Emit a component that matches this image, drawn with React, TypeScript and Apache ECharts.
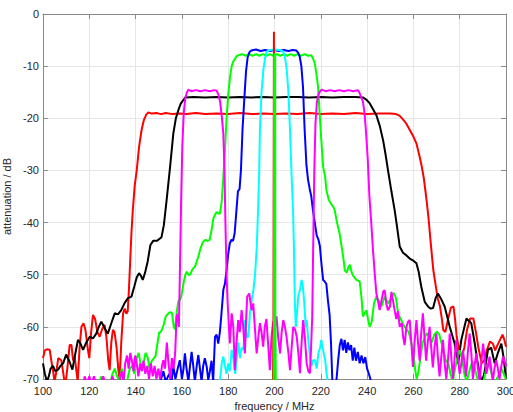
import React, { useEffect, useRef } from "react";
import * as echarts from "echarts";

// frequency axis ticks (MHz) and attenuation ticks (dB)
const xTicks = [100, 120, 140, 160, 180, 200, 220, 240, 260, 280, 300];
const yTicks = [-70, -60, -50, -40, -30, -20, -10, 0];

// red: widest band filter (~145-253 MHz)
const redWide: number[][] = [
  [100, -66], [100.8, -64.5], [101.7, -64.3], [102.9, -64.4], [103.6, -66.5], [104.3, -68.3], [105, -70.5], [105.8, -68.5], [106.6, -66], [107.9, -66.4], [108.8, -69], [109.6, -71.5], [110.5, -68], [111.5, -63.5], [112.3, -63.5], [113, -66.5], [113.7, -65.7], [114.3, -68], [115, -70.5], [115.8, -64], [116.6, -60], [117.5, -59.3], [118.3, -60.5], [119.4, -64.4], [120, -66], [120.8, -61], [121.6, -57.7], [122.5, -58.5], [123.5, -61], [124.5, -61.9], [125.5, -60.5], [126.6, -59.6], [127.4, -62], [128.2, -66.5], [128.8, -68.3], [129.5, -63], [130.2, -60.6], [130.9, -61], [131.8, -64], [132.5, -68], [133.1, -70.2], [133.8, -63], [134.6, -57.4], [135.3, -56.5], [136, -57.5], [136.6, -57], [137.1, -53], [137.6, -48], [138.2, -42], [138.8, -37.6], [139.6, -33], [140.5, -29.9], [141.5, -25.5], [142.6, -22.2], [143.6, -20.3], [144.6, -19.3], [145.5, -18.9], [147, -19.1], [149, -19.0], [151, -19.2], [153, -19.0], [156, -19.2], [159, -19.1], [162, -19.2], [166, -19.0], [170, -19.2], [175, -19.1], [180, -19.2], [185, -19.0], [190, -19.2], [195, -19.1], [200, -19.2], [205, -19.1], [210, -19.2], [215, -19.0], [220, -19.2], [225, -19.1], [230, -19.2], [235, -19.0], [240, -19.2], [245, -19.1], [250, -19.1], [252.5, -19.2], [254, -19.5], [255.5, -20.2], [256.9, -21], [258.5, -22.3], [260, -23.5], [261.3, -24.8], [262.5, -27], [263.5, -29], [264.5, -31.5], [265.5, -35], [266.5, -39], [267.5, -44], [268.6, -49.1], [269.6, -52], [270.5, -54.5], [271.5, -56.1], [272.3, -58.5], [272.9, -60.6], [273.8, -61], [275, -58.5], [276.2, -56.3], [277.3, -56.1], [278, -58.5], [278.7, -61.9], [279.8, -64.5], [280.9, -65.7], [282, -64], [283.2, -60.5], [284.5, -58.4], [285.9, -58.4], [287, -61], [288, -63.8], [289.5, -67], [290.5, -66.5], [291.7, -64.5], [293.1, -62.8], [294.3, -63.2], [295.3, -64.5], [296.3, -63.5], [297.4, -62.5], [298.5, -61.5], [299.3, -62.5], [300, -63.8],
];

// black: ~161-238 MHz band
const black: number[][] = [
  [100, -67], [100.8, -69], [101.7, -70.5], [102.5, -69.5], [103.3, -68], [104.3, -67.5], [105.3, -68.5], [106.5, -68.2], [107.5, -67.5], [108.7, -67], [110, -65.3], [111.3, -66.5], [112.7, -68.2], [113.8, -65.5], [115.1, -62.5], [116.2, -63.2], [117.3, -64.4], [118.7, -63], [120.2, -61.9], [121.6, -62.2], [123, -61.3], [124.1, -60], [125.2, -59], [126.6, -60.2], [128, -61.3], [129.5, -59.3], [131, -57.4], [132.4, -57.6], [133.8, -56.8], [135.3, -55.4], [136.7, -54.5], [138.2, -54.2], [139.4, -52.3], [140.5, -50.5], [141.5, -49.7], [142.3, -50.2], [143.1, -51], [144.1, -49.6], [145.2, -47.5], [146.4, -44.3], [147.6, -43.5], [149.3, -43.5], [151.2, -42.8], [152.2, -40.5], [153.4, -35.7], [154.9, -29.3], [156.3, -22.9], [157.4, -20], [158.5, -18.4], [159.5, -17.2], [160.6, -16.5], [161.5, -16.0], [165, -15.9], [170, -16.0], [175, -15.9], [180, -16.0], [185, -15.9], [190, -16.0], [195, -15.9], [200, -16.0], [205, -15.9], [210, -15.9], [215, -16.0], [220, -15.9], [225, -16.0], [230, -15.9], [235, -15.9], [238.2, -16.0], [239.6, -16.4], [241.1, -17.1], [242.5, -18.2], [244, -19.4], [245.5, -21.5], [246.9, -24.2], [248, -27], [249, -29.9], [250.5, -34], [251.9, -37.6], [253, -41], [254.1, -44.6], [255.5, -45.8], [257, -46.3], [258.4, -46.9], [260, -47.3], [261.3, -47.8], [262.3, -49.5], [263.4, -52.3], [264.9, -55.2], [266.5, -56.2], [267.5, -56.5], [268.5, -56.4], [269.6, -54.5], [270.6, -53.6], [271.8, -54.5], [273.5, -56.1], [275.7, -60], [277.8, -63.2], [279.3, -67], [280.7, -62.5], [282.9, -58.4], [285, -59.3], [286.5, -63.2], [287.6, -66.5], [288.6, -69], [289.5, -70.5], [290.6, -69], [292.2, -64.4], [293.6, -64], [295.1, -67], [296.5, -65], [298, -63.2], [299, -66], [300, -70],
];

// green: ~182-217 MHz band
const green: number[][] = [
  [100, -72], [124, -72], [125, -69.5], [126, -71], [129, -71], [130, -69], [131, -68], [132, -69.5], [133, -70.5], [134, -68], [135, -70], [136, -71], [137.5, -68], [138.6, -67.5], [139.5, -69], [140.5, -66], [141.3, -65], [142.1, -66.9], [143, -68], [144.3, -65], [145.3, -66], [146, -68], [147, -66.5], [148.6, -65.6], [149.5, -63], [150.2, -61], [150.7, -61.1], [151.4, -60.5], [152.2, -59.5], [153, -58], [154, -57.5], [154.8, -57.2], [155.7, -57.3], [156.5, -60], [157.1, -60.5], [157.8, -57], [158.5, -55], [159.3, -54.8], [160, -53.5], [160.7, -51.6], [161.5, -50], [162.1, -49.4], [162.8, -50], [163.6, -50], [164.5, -49], [165.7, -48.4], [167.1, -46.5], [168, -45], [169, -43.8], [170.2, -43.3], [171, -43.5], [172, -43.3], [173, -41], [173.6, -39.2], [174.3, -38.5], [175, -38], [175.7, -38.2], [176.4, -38.3], [177.2, -36], [177.8, -32], [178.6, -26], [179.3, -20], [180, -15.5], [180.8, -12], [181.5, -10], [182.2, -9.1], [183, -8.5], [183.7, -8.1], [184.5, -7.9], [186, -7.7], [187.5, -8.0], [189, -7.7], [190.5, -8.0], [192, -7.7], [193.5, -8.0], [195, -7.7], [196.5, -8.0], [198, -7.7], [199.5, -8.0], [201, -7.7], [202.5, -8.0], [204, -7.7], [205.5, -8.0], [207, -7.7], [208.5, -8.0], [210, -7.7], [211.5, -8.0], [213, -7.7], [214.5, -8.0], [215.9, -7.9], [216.7, -8.6], [217.4, -9.5], [218.1, -11.5], [218.8, -13.9], [219.5, -19], [220.2, -24], [221, -29.3], [221.8, -31], [222.5, -34], [223.5, -35.7], [224.6, -36.5], [225.4, -37], [226, -37.6], [227, -40], [228.2, -42.3], [229, -44.6], [229.8, -47], [230.4, -49.2], [231.2, -49.6], [232, -48.5], [232.6, -48.1], [233.3, -49.5], [234, -50.2], [235.4, -51], [236.8, -51.3], [237.5, -54], [238.2, -58], [239, -57.3], [239.7, -56.8], [240.4, -58.5], [241.1, -60], [242, -59], [243, -55.5], [244, -54.2], [245, -55], [246.2, -56.1], [247.6, -54.2], [249, -55.5], [250.3, -54.5], [251.5, -53.5], [252.5, -54.5], [253.4, -57.5], [254.5, -58.5], [256.2, -60], [258, -61], [259.8, -64.4], [260.7, -68], [261.4, -70], [262, -69], [262.9, -66.4], [264, -63], [265.7, -61.2], [266.8, -62], [267.9, -63], [269, -61.5], [270.1, -60.9], [271.2, -61.5], [272.9, -64.4], [274, -66.5], [275.1, -67], [276, -69], [277, -70.5], [278, -68], [279, -66], [280, -64.5], [281, -66], [282, -69], [283, -70.5], [284.5, -68], [285.5, -66.5], [286.5, -68], [288, -70.5], [290, -71], [291.5, -68], [292.5, -67], [293.5, -68.5], [295, -71], [296.5, -69.5], [298, -68], [299, -69], [300, -70],
];

// blue: ~189-210 MHz band
const blue: number[][] = [
  [100, -72], [150, -72], [151, -70], [152, -68.5], [153, -70.5], [154.5, -69], [155.5, -70.5], [156.3, -67.6], [157.2, -70], [158.2, -68], [159.1, -66.4], [160, -70], [160.7, -68], [161.3, -65.1], [162, -68], [162.8, -70.5], [163.5, -67.5], [164.2, -64.8], [164.9, -67.5], [165.6, -70.5], [166.4, -67.5], [167.1, -65.4], [167.8, -68], [168.5, -70.5], [169.2, -67.5], [169.9, -66], [170.7, -67.6], [171.4, -70.2], [172.1, -68.5], [172.8, -66.5], [173.5, -70.5], [174.3, -61.9], [175, -61.5], [175.7, -63.2], [176.4, -61], [177.1, -57.4], [177.9, -52.9], [178.6, -51.7], [179.3, -49.1], [180, -46], [180.7, -44], [181.4, -43.3], [182.1, -43.5], [182.8, -42], [183.5, -38], [184.2, -34], [184.9, -33.6], [185.5, -30], [186.2, -22], [187, -16], [187.7, -11], [188.4, -8.3], [189.2, -7.3], [190, -7.0], [192, -6.8], [194, -7.1], [196, -6.9], [198, -7.1], [200, -6.9], [202, -7.1], [204, -6.9], [206, -7.1], [208, -6.9], [209.4, -7.0], [210.2, -7.4], [210.9, -8.2], [211.6, -10], [212.3, -13.9], [213, -22], [213.8, -29], [214.5, -31.8], [215.2, -33.5], [215.9, -35], [216.6, -37.6], [217.4, -40], [218.2, -42.4], [219, -43.3], [219.6, -44.5], [220.3, -48], [221, -51], [221.7, -51.3], [222.4, -51.8], [223.1, -55], [223.8, -57.7], [224.4, -63], [225, -70.5], [226, -72], [226.8, -70], [227.5, -66.4], [228.2, -63.5], [228.9, -62.3], [229.6, -64.5], [230.3, -62.5], [231, -65], [231.7, -63], [232.4, -64.5], [233.1, -63.5], [233.8, -66.5], [234.5, -64], [235.2, -66.5], [236, -64.8], [236.8, -67], [237.6, -65.5], [238.4, -67], [239.2, -65.8], [240, -68], [241.1, -69.5], [242, -71], [243, -72], [300, -72],
];

// cyan: ~195-206 MHz band
const cyan: number[][] = [
  [100, -72], [175, -72], [176.5, -70], [177.2, -67], [177.9, -65.7], [178.6, -67.5], [179.3, -69], [180, -67], [180.7, -68.5], [181.5, -64.4], [182.2, -66], [183, -69], [183.7, -66], [184.4, -63], [185.1, -66], [185.8, -64], [186.6, -64.4], [187.3, -58.7], [188, -62], [188.7, -61.9], [189.4, -57.4], [190.1, -55], [190.9, -52.9], [191.6, -50], [192.3, -45], [192.9, -37.6], [193.4, -30], [193.7, -22.2], [194.4, -15], [195.2, -10.7], [195.9, -8.5], [196.6, -7.2], [198, -6.9], [200.2, -6.8], [202, -6.9], [203.8, -7.2], [204.6, -8.5], [205.3, -10.7], [206, -15], [206.7, -22.2], [207.3, -30], [208, -37.6], [208.4, -45], [208.8, -55.4], [209.2, -60], [209.6, -58], [210.3, -54], [211, -52.9], [211.7, -51], [212.2, -52], [212.8, -55], [213.5, -60], [213.9, -58.7], [214.5, -62], [215.3, -65.7], [216, -67.5], [216.6, -66.4], [217.5, -66.4], [218.2, -68], [219, -65], [219.7, -64], [220.2, -62.5], [221, -64.5], [221.9, -66.4], [222.5, -69], [223.5, -72], [300, -72],
];

// magenta: dual band (~161-176 and ~219-237 MHz)
const magenta: number[][] = [
  [100, -72], [117, -72], [118, -69.5], [119, -71], [120, -69.5], [121, -71], [122, -69.5], [123, -71], [125, -71], [126, -69.5], [127, -71], [129, -71], [130, -69.5], [131, -71], [133, -70.5], [134, -68.5], [134.8, -70.5], [135.5, -67], [136.3, -65.5], [137, -68], [137.7, -65], [138.4, -66.5], [139.1, -68.5], [139.8, -65.5], [140.5, -67], [141.2, -69.5], [142, -67], [142.7, -68.5], [143.4, -66.5], [144.2, -69], [145, -67.5], [145.8, -70], [146.6, -67], [147.4, -69.5], [148.2, -67.5], [149, -70], [149.8, -68], [150.6, -70], [151.4, -67.5], [152, -66.4], [152.7, -68], [153.5, -63], [154.2, -67], [155, -70], [155.7, -66], [156.4, -68], [157.1, -65], [157.7, -58], [158.2, -57.5], [158.7, -60], [159.2, -48], [159.7, -35], [160.2, -25], [160.8, -19], [161.5, -16], [162.2, -15], [162.8, -14.5], [164, -14.8], [166, -14.6], [168, -14.8], [170, -14.6], [172, -14.8], [174, -14.6], [175, -14.7], [175.8, -15.5], [176.5, -16.8], [177.2, -19.5], [177.9, -23], [178.4, -30], [178.8, -40], [179.3, -50], [179.7, -55], [180, -57.4], [180.7, -63.2], [181.5, -57.4], [182.2, -60], [182.9, -68.3], [183.6, -63], [184.3, -58.7], [185, -61], [185.8, -56.8], [186.5, -60], [187.2, -65.1], [187.8, -58], [188.2, -54.2], [189.1, -53.6], [190.1, -56.8], [190.8, -55.5], [191.5, -60], [192.3, -65.1], [193, -62], [193.7, -59.3], [194.4, -61], [195.1, -63.8], [195.8, -60], [196.5, -58.5], [197.2, -63], [198, -68.3], [198.7, -62], [199.4, -59], [200.2, -60], [200.9, -58], [201.6, -62], [202.4, -65.1], [203.1, -61], [203.8, -58.7], [204.5, -60], [205.2, -61.9], [206, -65], [206.7, -68.3], [207.4, -64], [208.1, -60], [208.9, -60.5], [209.6, -61.9], [210.3, -65], [211, -68.9], [211.7, -63], [212.4, -58.7], [213.1, -62], [213.9, -67], [214.6, -68.5], [215.3, -68.9], [215.8, -64], [216.3, -58], [216.7, -45], [217.2, -30], [217.7, -21], [218.3, -17], [219, -15.4], [219.7, -14.8], [220.4, -14.5], [222, -14.8], [224, -14.6], [226, -14.8], [228, -14.6], [230, -14.8], [232, -14.6], [234, -14.8], [236.1, -14.6], [236.8, -15.2], [237.5, -16], [238.2, -16.8], [238.9, -19], [239.6, -23], [240.3, -28], [241, -35], [241.8, -40], [242.5, -45], [243.3, -49.8], [244, -53.6], [244.7, -55], [245.4, -56.8], [246.2, -55], [247, -53.2], [247.6, -53], [248.3, -55.5], [249, -56.8], [249.9, -56.1], [250.5, -53.3], [251.2, -55], [251.9, -56.8], [252.6, -58.5], [253.3, -57], [254.1, -60], [255, -59.3], [255.6, -62], [256.2, -63.5], [257, -60], [257.7, -59], [258.4, -58.7], [259.1, -63], [259.8, -67.7], [260.5, -63], [261.3, -58.7], [262, -63], [262.7, -66.5], [263.4, -61], [264.1, -57.4], [264.8, -62], [265.5, -66.5], [266.2, -63], [267, -60], [267.7, -64], [268.4, -67.8], [269.1, -64], [269.9, -61.3], [270.6, -66], [271.3, -69.5], [272, -66], [272.8, -62.5], [273.5, -67], [274.2, -70], [275, -66], [275.7, -61.3], [276.4, -66], [277.1, -70], [277.8, -66], [278.5, -62.5], [279.2, -66], [280, -69], [280.7, -67], [281.4, -64.5], [282.1, -67], [282.8, -69.5], [283.5, -65], [284.3, -61.3], [285, -65], [285.7, -70], [286.4, -67.5], [287.2, -65.1], [287.9, -68], [288.6, -70.5], [289.3, -67], [290.1, -63.2], [290.8, -66], [291.5, -69], [292.2, -67.5], [292.9, -65.7], [293.6, -68], [294.3, -70.5], [295, -68], [295.8, -66.4], [296.5, -68], [297.2, -70], [298, -67.5], [298.7, -65.7], [299.4, -66.5], [300, -67.6],
];

// red carrier spike at 200 MHz
const redSpike: number[][] = [
  [199.3, -72], [199.55, -60], [199.75, -3.4], [199.9, -3.4], [200.05, -60], [200.2, -72],
];

// green narrow trace at 200 MHz
const greenNarrow: number[][] = [
  [199.6, -72], [199.8, -58], [199.85, -7.7], [200.3, -7.7], [200.35, -58], [200.6, -72],
];

const FONT = "'Liberation Sans', Arial, Helvetica, sans-serif";
const AXIS_COLOR = "#8a8a8a";
const TEXT_COLOR = "#262626";

export default function App() {
  const ref = useRef<HTMLDivElement>(null);
  useEffect(() => {
    if (!ref.current) return;
    const chart = echarts.init(ref.current, undefined, { renderer: "svg" });
    const mk = (name: string, data: number[][], color: string) => ({
      name,
      type: "line",
      data,
      showSymbol: false,
      symbol: "none",
      lineStyle: { color, width: 2 },
      itemStyle: { color },
      clip: true,
    });
    const xBase = {
      type: "value",
      min: xTicks[0],
      max: xTicks[xTicks.length - 1],
      interval: 20,
    };
    const yBase = {
      type: "value",
      min: yTicks[0],
      max: yTicks[yTicks.length - 1],
      interval: 10,
    };
    chart.setOption({
      animation: false,
      backgroundColor: "#ffffff",
      grid: {
        left: 43,
        right: 7,
        top: 14,
        bottom: 33,
        containLabel: false,
        outerBoundsMode: "none",
      },
      xAxis: [
        {
          ...xBase,
          position: "bottom",
          axisLine: { show: true, onZero: false, lineStyle: { color: AXIS_COLOR, width: 1 } },
          axisTick: { show: true, inside: true, length: 5, lineStyle: { color: AXIS_COLOR } },
          axisLabel: { color: TEXT_COLOR, fontSize: 11, fontFamily: FONT, margin: 6 },
          splitLine: { show: true, lineStyle: { color: "#e6e6e6", width: 1 } },
          name: "frequency / MHz",
          nameLocation: "middle",
          nameGap: 21,
          nameTextStyle: { color: TEXT_COLOR, fontSize: 11, fontFamily: FONT },
        },
        {
          ...xBase,
          position: "top",
          axisLine: { show: true, onZero: false, lineStyle: { color: AXIS_COLOR, width: 1 } },
          axisTick: { show: true, inside: true, length: 5, lineStyle: { color: AXIS_COLOR } },
          axisLabel: { show: false },
          splitLine: { show: false },
        },
      ],
      yAxis: [
        {
          ...yBase,
          position: "left",
          axisLine: { show: true, onZero: false, lineStyle: { color: AXIS_COLOR, width: 1 } },
          axisTick: { show: true, inside: true, length: 5, lineStyle: { color: AXIS_COLOR } },
          axisLabel: { color: TEXT_COLOR, fontSize: 11, fontFamily: FONT, margin: 4 },
          splitLine: { show: true, lineStyle: { color: "#e6e6e6", width: 1 } },
          name: "attenuation / dB",
          nameLocation: "middle",
          nameGap: 24,
          nameTextStyle: { color: TEXT_COLOR, fontSize: 11, fontFamily: FONT },
        },
        {
          ...yBase,
          position: "right",
          axisLine: { show: true, onZero: false, lineStyle: { color: AXIS_COLOR, width: 1 } },
          axisTick: { show: true, inside: true, length: 5, lineStyle: { color: AXIS_COLOR } },
          axisLabel: { show: false },
          splitLine: { show: false },
        },
      ],
      series: [
        mk("red", redWide, "#ff0000"),
        mk("black", black, "#000000"),
        mk("green", green, "#00ff00"),
        mk("blue", blue, "#0000ff"),
        mk("cyan", cyan, "#00ffff"),
        mk("magenta", magenta, "#ff00ff"),
        mk("redSpike", redSpike, "#ff0000"),
        mk("greenNarrow", greenNarrow, "#00ff00"),
      ],
    });
    return () => chart.dispose();
  }, []);
  return (
    <div
      ref={ref}
      style={{ position: "fixed", left: 0, top: 0, width: 513, height: 412 }}
    />
  );
}
